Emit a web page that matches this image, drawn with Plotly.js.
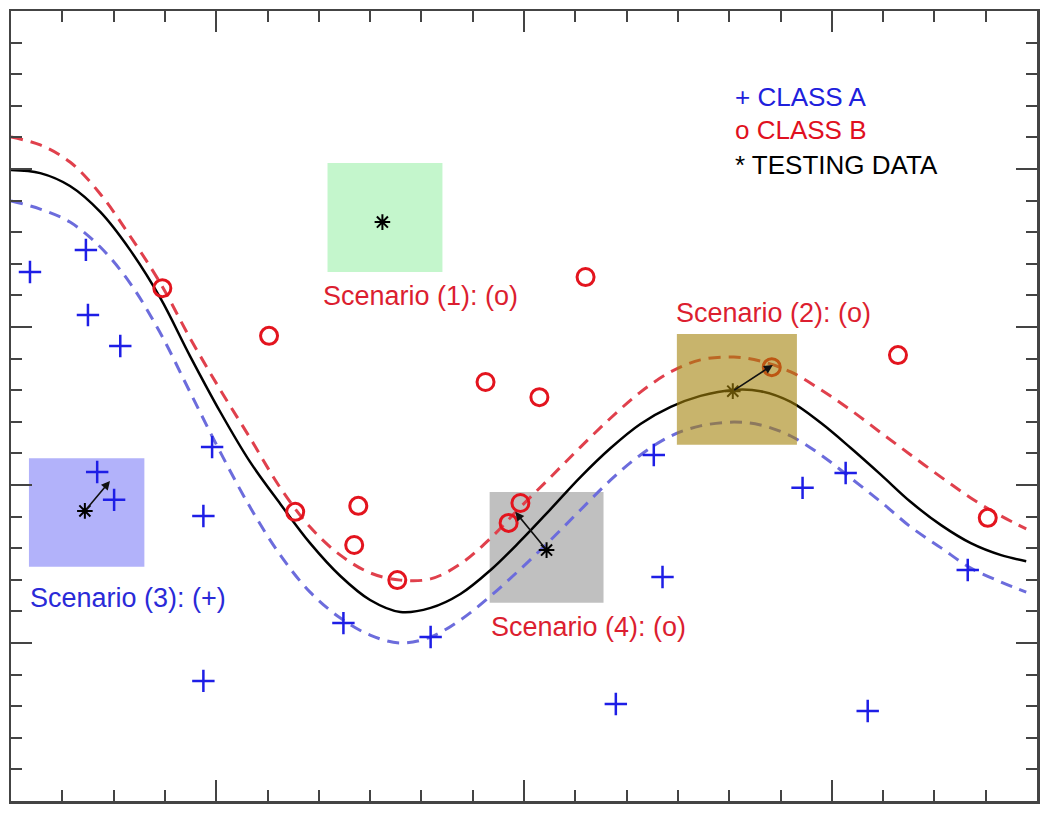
<!DOCTYPE html>
<html>
<head>
<meta charset="utf-8">
<script src="https://cdn.plot.ly/plotly-3.0.1.min.js"></script>
<style>html,body{margin:0;padding:0;background:#fff;}#chart{width:1050px;height:815px;}</style>
</head>
<body>
<div id="chart"></div>
<script>
// Shared x positions along the curves
const curveX = [0, 0.57, 1.15, 1.74, 2.32, 2.91, 3.49, 4.08, 4.66, 5.25, 5.83, 6.42, 7.00, 7.59, 8.18, 8.76, 9.35, 9.93, 10.52, 11.10, 11.69, 12.27, 12.86, 13.44, 14.09, 14.61, 15.20, 15.79, 16.37, 16.96, 17.54, 18.13, 18.71, 19.30, 19.79];
// Decision boundary (solid black)
const boundaryY = [19.97, 19.87, 19.46, 18.64, 17.44, 15.92, 14.08, 12.31, 10.73, 9.40, 8.16, 7.12, 6.36, 5.98, 6.11, 6.55, 7.31, 8.23, 9.24, 10.25, 11.17, 11.93, 12.47, 12.82, 13.01, 12.97, 12.63, 11.96, 11.17, 10.32, 9.46, 8.73, 8.16, 7.78, 7.59];
// Upper margin (red dashed)
const upperY = [21.01, 20.76, 20.22, 19.21, 17.88, 16.39, 14.65, 13.01, 11.49, 9.91, 8.67, 7.78, 7.22, 6.99, 7.03, 7.50, 8.32, 9.30, 10.25, 11.20, 12.12, 12.94, 13.58, 13.96, 14.05, 13.92, 13.58, 13.01, 12.37, 11.65, 10.95, 10.25, 9.59, 9.02, 8.61];
// Lower margin (blue dashed)
const lowerY = [18.99, 18.73, 18.32, 17.53, 16.39, 14.81, 12.94, 11.04, 9.30, 7.78, 6.61, 5.79, 5.25, 5.00, 5.19, 5.73, 6.49, 7.34, 8.26, 9.21, 10.16, 10.95, 11.55, 11.87, 11.99, 11.90, 11.55, 10.95, 10.22, 9.46, 8.67, 8.01, 7.37, 6.93, 6.61];

// Class A (+)
const classAX = [0.37, 1.46, 1.50, 2.13, 3.92, 3.75, 1.68, 2.01, 3.75, 6.48, 8.18, 12.70, 12.53, 11.79, 15.43, 16.27, 18.65, 16.70];
const classAY = [16.74, 17.44, 15.38, 14.40, 11.20, 9.02, 10.41, 9.53, 3.80, 5.63, 5.19, 7.09, 10.95, 3.07, 9.91, 10.38, 7.31, 2.85];

// Class B (o)
const classBX = [2.95, 5.03, 5.54, 6.77, 6.69, 7.53, 9.25, 10.30, 11.20, 9.93, 9.70, 14.83, 17.29, 19.04];
const classBY = [16.23, 14.72, 9.15, 9.34, 8.10, 6.99, 13.26, 12.78, 16.58, 9.43, 8.80, 13.73, 14.11, 8.96];

// Testing data (*)
const testX = [7.24, 1.44, 10.44, 14.07];
const testY = [18.32, 9.18, 7.94, 12.97];

// Nearest-neighbour arrow heads (from testing points 2,3,4)
const arrowHeadX = [1.93, 9.83, 14.85];
const arrowHeadY = [10.13, 9.15, 13.80];
const arrowFrom = [1, 2, 3];

// Labels
const scenarioLabels = ["Scenario (1): (o)", "Scenario (2): (o)", "Scenario (3): (+)", "Scenario (4): (o)"];
const legendLabels = ["+ CLASS A", "o CLASS B", "* TESTING DATA"];

const FONT = "Liberation Sans, Arial, Helvetica, sans-serif";
const RED = "#dc1e30";
const BLUE = "#2a2ad8";

const traces = [
  {x: curveX, y: boundaryY, mode: "lines", line: {color: "#000", width: 2.5, shape: "spline", smoothing: 1}, hoverinfo: "skip"},
  {x: curveX, y: upperY, mode: "lines", line: {color: "#e0404c", width: 3, dash: "12px,8px", shape: "spline", smoothing: 1}, hoverinfo: "skip"},
  {x: curveX, y: lowerY, mode: "lines", line: {color: "#6c6cdc", width: 3, dash: "12px,8px", shape: "spline", smoothing: 1}, hoverinfo: "skip"},
  {x: classAX, y: classAY, mode: "markers", marker: {symbol: "cross-thin-open", size: 16, color: "#1e1ee6", line: {color: "#1e1ee6", width: 2.5}}},
  {x: classBX, y: classBY, mode: "markers", marker: {symbol: "circle-open", size: 17, color: "#e3141e", line: {color: "#e3141e", width: 3}}},
  {x: testX, y: testY, mode: "markers", marker: {symbol: "asterisk-open", size: 13, color: "#000", line: {color: "#000", width: 2}}}
];

const boxes = [
  {x0: 6.17, x1: 8.41, y0: 16.74, y1: 20.19, color: "#c4f6cc", layer: "below", opacity: 1},
  {x0: 0.35, x1: 2.60, y0: 7.41, y1: 10.85, color: "#b2b2fa", layer: "below", opacity: 1},
  {x0: 9.33, x1: 11.55, y0: 6.27, y1: 9.78, color: "#c0c0c0", layer: "below", opacity: 1},
  {x0: 12.98, x1: 15.32, y0: 11.27, y1: 14.78, color: "rgb(163,130,10)", layer: "above", opacity: 0.6}
];
const shapes = boxes.map(b => ({type: "rect", xref: "x", yref: "y", x0: b.x0, x1: b.x1, y0: b.y0, y1: b.y1,
  fillcolor: b.color, opacity: b.opacity, line: {width: 0}, layer: b.layer}));

const labelPos = [[7.98, 15.98, RED], [14.87, 15.44, RED], [2.28, 6.42, BLUE], [11.26, 5.51, RED]];
const annotations = scenarioLabels.map((t, i) => ({
  x: labelPos[i][0], y: labelPos[i][1], xref: "x", yref: "y", text: t, showarrow: false,
  xanchor: "center", yanchor: "middle", font: {family: FONT, size: 27, color: labelPos[i][2]}
}));

const legendPos = [[22.28, "#2020dc"], [21.23, "#e01020"], [20.12, "#000"]];
legendLabels.forEach((t, i) => annotations.push({
  x: 14.08, y: legendPos[i][0], xref: "x", yref: "y", text: t, showarrow: false,
  xanchor: "left", yanchor: "middle", font: {family: FONT, size: 26, color: legendPos[i][1]}
}));

arrowFrom.forEach((ti, i) => annotations.push({
  x: arrowHeadX[i], y: arrowHeadY[i], ax: testX[ti], ay: testY[ti], xref: "x", yref: "y", axref: "x", ayref: "y",
  text: "", showarrow: true, arrowhead: 2, arrowsize: 1.1, arrowwidth: 1.6, arrowcolor: "#111", standoff: 0, startstandoff: 0
}));

const axisCommon = {
  showgrid: false, zeroline: false, showticklabels: false, showline: true, linewidth: 2.5, linecolor: "#444",
  mirror: "ticks", ticks: "inside", ticklen: 21, tickwidth: 2, tickcolor: "#444", fixedrange: true
};

const layout = {
  width: 1050, height: 815,
  margin: {l: 11, r: 13, t: 11, b: 14},
  paper_bgcolor: "#fff", plot_bgcolor: "#fff",
  showlegend: false,
  xaxis: Object.assign({}, axisCommon, {range: [0, 20], tick0: 4, dtick: 6,
    minor: {tick0: 0, dtick: 1, ticks: "inside", ticklen: 11, tickwidth: 2, tickcolor: "#444", showgrid: false}}),
  yaxis: Object.assign({}, axisCommon, {range: [0, 25], tick0: 0, dtick: 5,
    minor: {tick0: 0, dtick: 1, ticks: "inside", ticklen: 11, tickwidth: 2, tickcolor: "#444", showgrid: false}}),
  shapes: shapes,
  annotations: annotations
};

Plotly.newPlot("chart", traces, layout, {displayModeBar: false, staticPlot: true});
</script>
</body>
</html>
